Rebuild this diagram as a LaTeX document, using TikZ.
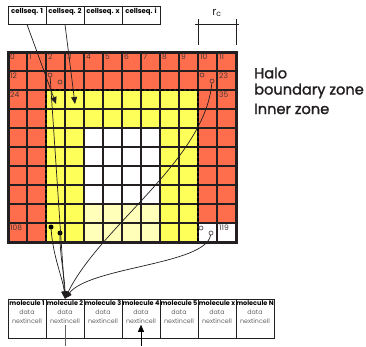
\documentclass[tikz,border=0pt]{standalone}
\usepackage{fontspec}
\setmainfont{Poppins}
\newfontfamily\legfont{Poppins}[FakeBold=1.6]
\usetikzlibrary{arrows.meta}
\definecolor{halo}{RGB}{255,110,76}
\definecolor{yel}{RGB}{255,255,90}
\definecolor{lyel}{RGB}{255,255,185}
\definecolor{ink}{RGB}{35,31,32}
\definecolor{numgray}{RGB}{70,55,55}
\definecolor{txtgray}{RGB}{100,100,100}
\tikzset{
  gridline/.style={line width=1.6pt, ink},
  domainline/.style={line width=2.2pt, black, dash pattern=on 3pt off 2pt},
  num/.style={anchor=north west, inner sep=0pt, font=\fontsize{7.5}{7.5}\selectfont, text=numgray},
  opencirc/.style={circle, draw=numgray, line width=0.6pt, minimum size=4pt, inner sep=0pt},
  dotc/.style={circle, fill=black, minimum size=5pt, inner sep=0pt},
  csbox/.style={draw=ink, line width=0.9pt, minimum width=38pt, minimum height=18pt, inner sep=1pt, text depth=8pt, text height=4.5pt, font=\fontsize{6.9}{6.9}\selectfont\bfseries},
  molbox/.style={draw=ink, line width=0.9pt, minimum width=38pt, minimum height=39pt, inner sep=0pt},
  moltext/.style={anchor=north, align=center, inner sep=1.5pt, font=\fontsize{6.3}{9}\selectfont},
  moltitle/.style={font=\fontsize{6.5}{9}\selectfont\bfseries},
  legend/.style={anchor=west, inner sep=0pt, font=\fontsize{14.6}{14.6}\legfont, text=ink},
  conn/.style={ink, line width=0.7pt},
  arr/.style={conn, -{Triangle[length=7pt,width=6pt]}},
}
\begin{document}
\begin{tikzpicture}[x=1pt,y=-1pt]
\useasboundingbox (0,0) rectangle (366,346);
% fills
\fill[halo] (8,52) rectangle (236,242);
\fill[yel] (46,90) rectangle (198,242);
\fill[white] (84,128) rectangle (160,204);
\fill[lyel] (84,204) rectangle (160,242);
\fill[white] (198,223) rectangle (236,242);
% grid
\foreach \i in {0,...,12} \draw[gridline] ({8+19*\i},52) -- ({8+19*\i},242);
\foreach \j in {0,...,10} \draw[gridline] (8,{52+19*\j}) -- (236,{52+19*\j});
\draw[domainline] (46,90) rectangle (198,242);
\draw[line width=3pt, ink] (8,52) rectangle (236,242);
% cell numbers
\foreach \i in {0,...,11} \node[num] (n\i) at ({8+19*\i+2},54) {\i};
\node[num] (n12) at (10,73) {12};
\node[num] (n23) at (219,73) {23};
\node[num] (n24) at (10,92) {24};
\node[num] (n35) at (219,92) {35};
\node[num] (n108) at (10,225) {108};
\node[num] (n119) at (219,225) {119};
% particles
\node[opencirc] (p1a) at (50,75) {};
\node[opencirc] (p1b) at (60,82) {};
\node[opencirc] (p2a) at (202,75) {};
\node[opencirc] (p2) at (212,81) {};
\node[dotc] (d1) at (51,227) {};
\node[dotc] (d2) at (60,233) {};
\node[opencirc] (p3a) at (201,228) {};
\node[opencirc] (p3) at (211,233) {};
\coordinate (t1) at (56,104);
\coordinate (t2) at (75,104);
% cellseq boxes
\node[csbox] (cs1) at (27,15) {cellseq. 1};
\node[csbox] (cs2) at (65,15) {cellseq. 2};
\node[csbox] (csx) at (103,15) {cellseq. x};
\node[csbox] (csi) at (141,15) {cellseq. i};
% r_c dimension
\node[inner sep=0pt, font=\fontsize{11}{11}\selectfont, text=ink] (rc) at (217,13) {r\textsubscript{c}};
\draw[ink, line width=0.8pt] (198,19) -- (198,45) (236,19) -- (236,45) (195,24) -- (239,24);
% legend
\node[legend] (lhalo) at (254,73) {Halo};
\node[legend] (lbound) at (254,91) {boundary zone};
\node[legend] (linner) at (254,109) {Inner zone};
% molecule boxes
\foreach \k/\lab [count=\c from 0] in {1/molecule 1,2/molecule 2,3/molecule 3,4/molecule 4,5/molecule 5,x/molecule x,N/molecule N}{
  \node[molbox] (m\k) at ({27+38*\c},318.5) {};
  \node[moltext] (m\k t) at (m\k.north) {{\tikzset{moltitle}\fontsize{6.5}{9}\selectfont\bfseries \lab}\\{\color{txtgray}data}\\{\color{txtgray}nextincell}};
}
% connectors
\draw[arr] (cs1.south) -- (t1);
\draw[arr] (cs2.south) -- (t2);
\draw[arr] (p1a) -- (m2.north);
\draw[arr] (d1) .. controls +(2,30) and +(-2,-20) .. (m2.north);
\draw[arr] (d2) .. controls +(0,25) and +(0,-20) .. (m2.north);
\draw[arr] (p2) .. controls +(-7,79) and +(35,-72) .. (m2.north);
\draw[arr] (p3) .. controls +(-6,32) and +(25,-32) .. (m2.north);
\coordinate (m2out) at (65,346);
\draw[txtgray, line width=0.7pt] (m2t.south) -- (m2out);
\coordinate (m4in) at (141,346);
\draw[arr, black] (m4in) -- (m4t.south);
\end{tikzpicture}
\end{document}
